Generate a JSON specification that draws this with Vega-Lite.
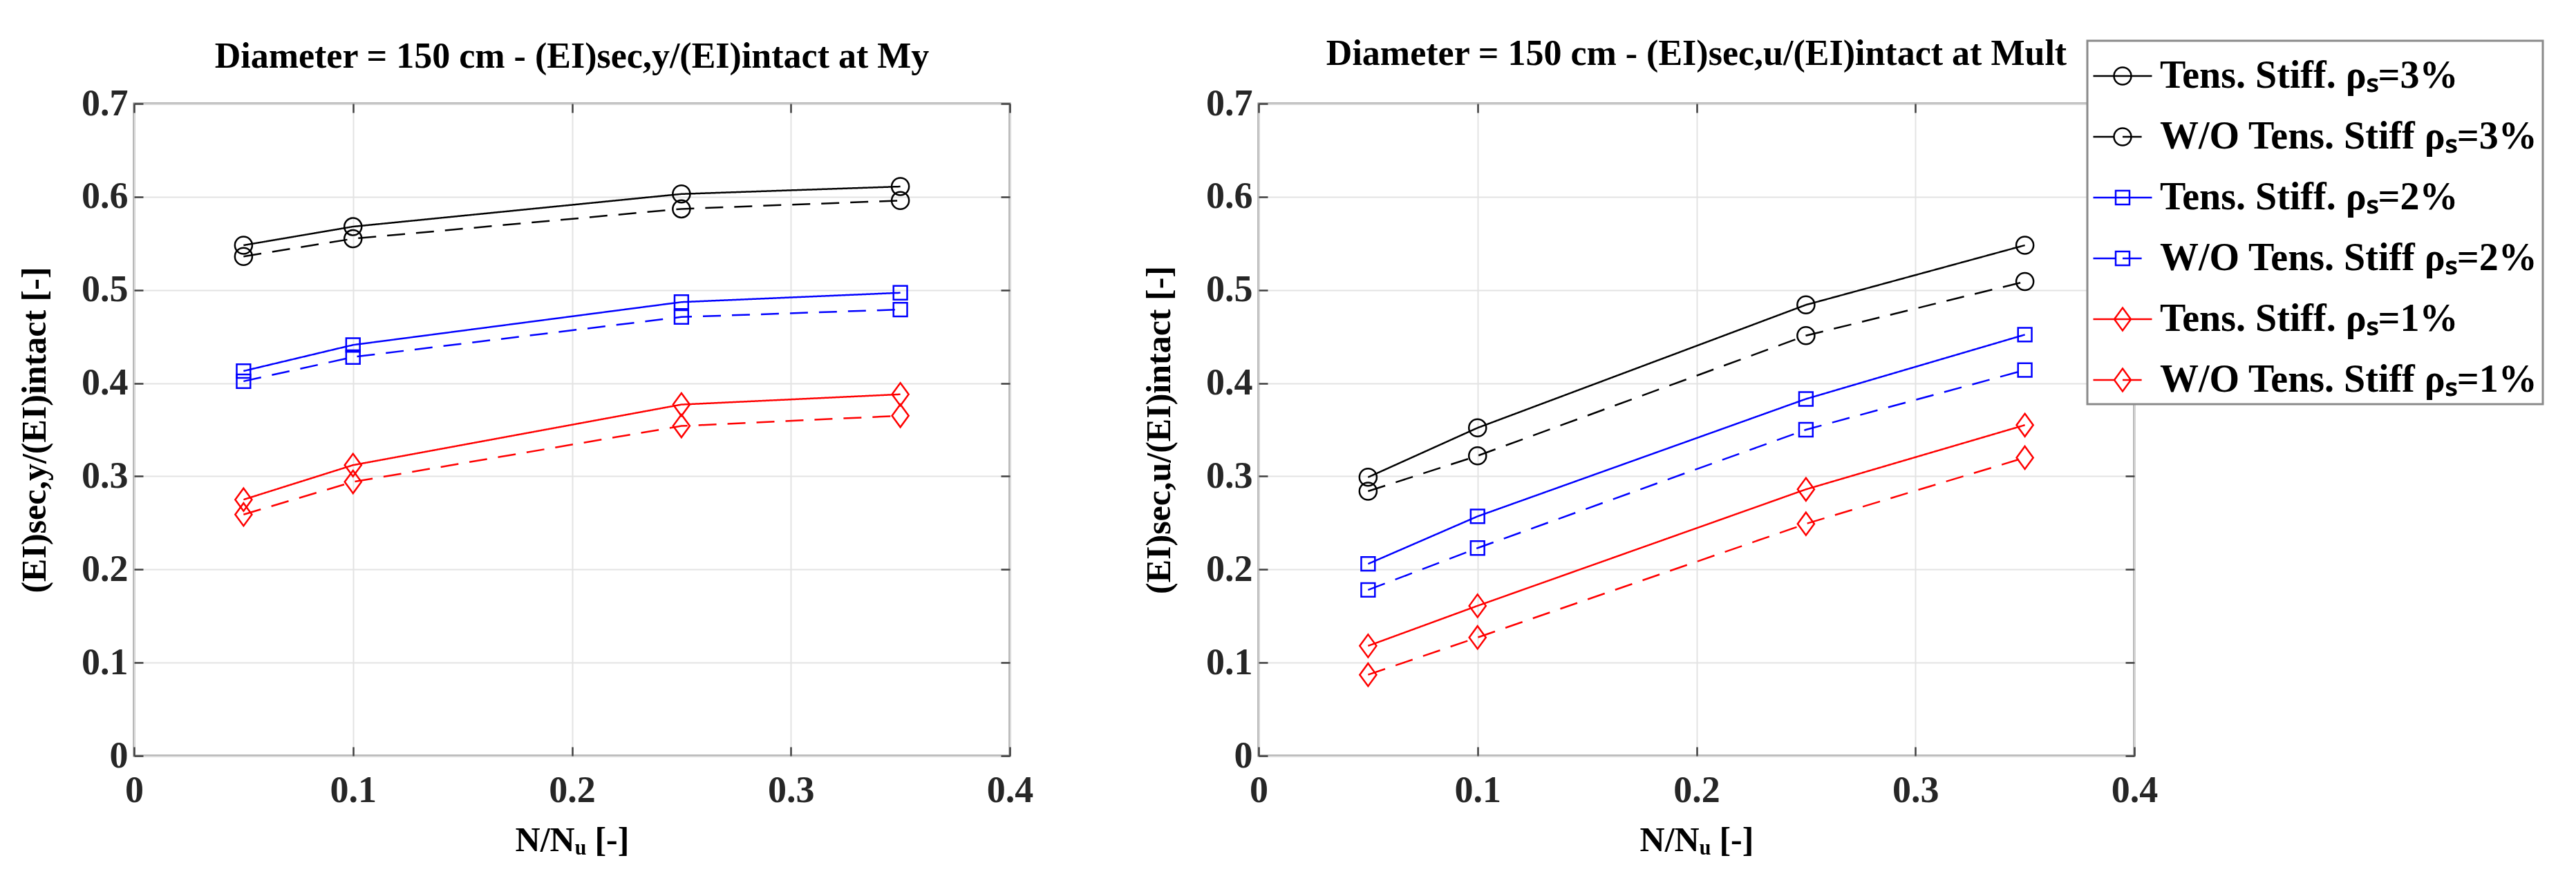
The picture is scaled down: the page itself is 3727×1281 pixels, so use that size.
{
  "$schema": "https://vega.github.io/schema/vega-lite/v6.json",
  "background": "white",
  "padding": {"left": 24, "top": 50, "right": 0, "bottom": 0},
  "config": {
    "font": "Liberation Serif",
    "view": {"stroke": "#7f7f7f", "strokeWidth": 3},
    "axis": {
      "labelFont": "Liberation Serif", "labelFontSize": 54, "labelFontWeight": "bold", "labelColor": "#262626",
      "titleFont": "Liberation Serif", "titleFontSize": 50, "titleFontWeight": "bold", "titleColor": "#000000",
      "gridColor": "#e3e3e3", "gridWidth": 2,
      "tickColor": "#404040", "tickWidth": 2.5, "tickSize": -13,
      "domain": false, "labelFlush": false
    },
    "title": {"font": "Liberation Serif", "fontSize": 52, "fontWeight": "bold", "color": "#000000", "baseline": "alphabetic", "offset": 14, "anchor": "middle", "frame": "group"}
  },
  "datasets": {
    "left": [
      {"x": 0.05, "y": 0.548, "s": "Tens. Stiff. ρₛ=3%"}, {"x": 0.1, "y": 0.568, "s": "Tens. Stiff. ρₛ=3%"}, {"x": 0.25, "y": 0.603, "s": "Tens. Stiff. ρₛ=3%"}, {"x": 0.35, "y": 0.611, "s": "Tens. Stiff. ρₛ=3%"},
      {"x": 0.05, "y": 0.536, "s": "W/O Tens. Stiff ρₛ=3%"}, {"x": 0.1, "y": 0.555, "s": "W/O Tens. Stiff ρₛ=3%"}, {"x": 0.25, "y": 0.587, "s": "W/O Tens. Stiff ρₛ=3%"}, {"x": 0.35, "y": 0.596, "s": "W/O Tens. Stiff ρₛ=3%"},
      {"x": 0.05, "y": 0.413, "s": "Tens. Stiff. ρₛ=2%"}, {"x": 0.1, "y": 0.441, "s": "Tens. Stiff. ρₛ=2%"}, {"x": 0.25, "y": 0.487, "s": "Tens. Stiff. ρₛ=2%"}, {"x": 0.35, "y": 0.497, "s": "Tens. Stiff. ρₛ=2%"},
      {"x": 0.05, "y": 0.402, "s": "W/O Tens. Stiff ρₛ=2%"}, {"x": 0.1, "y": 0.428, "s": "W/O Tens. Stiff ρₛ=2%"}, {"x": 0.25, "y": 0.471, "s": "W/O Tens. Stiff ρₛ=2%"}, {"x": 0.35, "y": 0.479, "s": "W/O Tens. Stiff ρₛ=2%"},
      {"x": 0.05, "y": 0.275, "s": "Tens. Stiff. ρₛ=1%"}, {"x": 0.1, "y": 0.312, "s": "Tens. Stiff. ρₛ=1%"}, {"x": 0.25, "y": 0.377, "s": "Tens. Stiff. ρₛ=1%"}, {"x": 0.35, "y": 0.388, "s": "Tens. Stiff. ρₛ=1%"},
      {"x": 0.05, "y": 0.259, "s": "W/O Tens. Stiff ρₛ=1%"}, {"x": 0.1, "y": 0.294, "s": "W/O Tens. Stiff ρₛ=1%"}, {"x": 0.25, "y": 0.354, "s": "W/O Tens. Stiff ρₛ=1%"}, {"x": 0.35, "y": 0.365, "s": "W/O Tens. Stiff ρₛ=1%"}
    ],
    "right": [
      {"x": 0.05, "y": 0.299, "s": "Tens. Stiff. ρₛ=3%"}, {"x": 0.1, "y": 0.352, "s": "Tens. Stiff. ρₛ=3%"}, {"x": 0.25, "y": 0.484, "s": "Tens. Stiff. ρₛ=3%"}, {"x": 0.35, "y": 0.548, "s": "Tens. Stiff. ρₛ=3%"},
      {"x": 0.05, "y": 0.284, "s": "W/O Tens. Stiff ρₛ=3%"}, {"x": 0.1, "y": 0.322, "s": "W/O Tens. Stiff ρₛ=3%"}, {"x": 0.25, "y": 0.451, "s": "W/O Tens. Stiff ρₛ=3%"}, {"x": 0.35, "y": 0.509, "s": "W/O Tens. Stiff ρₛ=3%"},
      {"x": 0.05, "y": 0.206, "s": "Tens. Stiff. ρₛ=2%"}, {"x": 0.1, "y": 0.257, "s": "Tens. Stiff. ρₛ=2%"}, {"x": 0.25, "y": 0.383, "s": "Tens. Stiff. ρₛ=2%"}, {"x": 0.35, "y": 0.452, "s": "Tens. Stiff. ρₛ=2%"},
      {"x": 0.05, "y": 0.178, "s": "W/O Tens. Stiff ρₛ=2%"}, {"x": 0.1, "y": 0.223, "s": "W/O Tens. Stiff ρₛ=2%"}, {"x": 0.25, "y": 0.350, "s": "W/O Tens. Stiff ρₛ=2%"}, {"x": 0.35, "y": 0.414, "s": "W/O Tens. Stiff ρₛ=2%"},
      {"x": 0.05, "y": 0.118, "s": "Tens. Stiff. ρₛ=1%"}, {"x": 0.1, "y": 0.161, "s": "Tens. Stiff. ρₛ=1%"}, {"x": 0.25, "y": 0.286, "s": "Tens. Stiff. ρₛ=1%"}, {"x": 0.35, "y": 0.355, "s": "Tens. Stiff. ρₛ=1%"},
      {"x": 0.05, "y": 0.087, "s": "W/O Tens. Stiff ρₛ=1%"}, {"x": 0.1, "y": 0.127, "s": "W/O Tens. Stiff ρₛ=1%"}, {"x": 0.25, "y": 0.249, "s": "W/O Tens. Stiff ρₛ=1%"}, {"x": 0.35, "y": 0.320, "s": "W/O Tens. Stiff ρₛ=1%"}
    ]
  },
  "spacing": 154,
  "resolve": {"legend": {"color": "independent"}, "scale": {"color": "independent"}},
  "hconcat": [
    {
      "title": "Diameter = 150 cm - (EI)sec,y/(EI)intact at My",
      "width": 1267,
      "height": 944,
      "data": {"name": "left"},
      "resolve": {"axis": {"x": "independent", "y": "independent"}},
      "layer": [
        {
          "mark": {"type": "line", "strokeWidth": 2.5},
          "encoding": {
            "x": {"field": "x", "type": "quantitative", "scale": {"domain": [0, 0.4]},
              "axis": {"values": [0, 0.1, 0.2, 0.3, 0.4], "format": ".1~f", "title": "N/Nᵤ [-]", "labelPadding": 36, "titlePadding": 20}},
            "y": {"field": "y", "type": "quantitative", "scale": {"domain": [0, 0.7]},
              "axis": {"values": [0, 0.1, 0.2, 0.3, 0.4, 0.5, 0.6, 0.7], "format": ".1~f", "title": "(EI)sec,y/(EI)intact [-]", "labelPadding": 22, "titlePadding": 42}},
            "color": {"field": "s", "type": "nominal", "legend": null,
              "scale": {"domain": ["Tens. Stiff. ρₛ=3%", "W/O Tens. Stiff ρₛ=3%", "Tens. Stiff. ρₛ=2%", "W/O Tens. Stiff ρₛ=2%", "Tens. Stiff. ρₛ=1%", "W/O Tens. Stiff ρₛ=1%"],
                "range": ["#000000", "#000000", "#0000ff", "#0000ff", "#ff0000", "#ff0000"]}},
            "strokeDash": {"field": "s", "type": "nominal", "legend": null,
              "scale": {"domain": ["Tens. Stiff. ρₛ=3%", "W/O Tens. Stiff ρₛ=3%", "Tens. Stiff. ρₛ=2%", "W/O Tens. Stiff ρₛ=2%", "Tens. Stiff. ρₛ=1%", "W/O Tens. Stiff ρₛ=1%"],
                "range": [[1, 0], [26, 16], [1, 0], [26, 16], [1, 0], [26, 16]]}}
          }
        },
        {
          "mark": {"type": "point", "filled": false, "strokeWidth": 2.5, "opacity": 1, "size": 1089},
          "encoding": {
            "x": {"field": "x", "type": "quantitative", "axis": {"orient": "top", "values": [0, 0.1, 0.2, 0.3, 0.4], "labels": false, "title": null, "grid": false}},
            "y": {"field": "y", "type": "quantitative", "axis": {"orient": "right", "values": [0, 0.1, 0.2, 0.3, 0.4, 0.5, 0.6, 0.7], "labels": false, "title": null, "grid": false}},
            "stroke": {"field": "s", "type": "nominal", "legend": null,
              "scale": {"domain": ["Tens. Stiff. ρₛ=3%", "W/O Tens. Stiff ρₛ=3%", "Tens. Stiff. ρₛ=2%", "W/O Tens. Stiff ρₛ=2%", "Tens. Stiff. ρₛ=1%", "W/O Tens. Stiff ρₛ=1%"],
                "range": ["#000000", "#000000", "#0000ff", "#0000ff", "#ff0000", "#ff0000"]}},
            "shape": {"field": "s", "type": "nominal", "legend": null,
              "scale": {"domain": ["Tens. Stiff. ρₛ=3%", "W/O Tens. Stiff ρₛ=3%", "Tens. Stiff. ρₛ=2%", "W/O Tens. Stiff ρₛ=2%", "Tens. Stiff. ρₛ=1%", "W/O Tens. Stiff ρₛ=1%"],
                "range": ["M-0.76,0A0.76,0.76 0 1,0 0.76,0A0.76,0.76 0 1,0 -0.76,0Z", "M-0.76,0A0.76,0.76 0 1,0 0.76,0A0.76,0.76 0 1,0 -0.76,0Z", "M-0.6,-0.6H0.6V0.6H-0.6Z", "M-0.6,-0.6H0.6V0.6H-0.6Z", "M0,-1L0.73,0L0,1L-0.73,0Z", "M0,-1L0.73,0L0,1L-0.73,0Z"]}}
          }
        }
      ]
    },
    {
      "title": {"text": "Diameter = 150 cm - (EI)sec,u/(EI)intact at Mult", "offset": -47},
      "width": 1267,
      "height": 944,
      "data": {"name": "right"},
      "resolve": {"axis": {"x": "independent", "y": "independent"}},
      "layer": [
        {
          "mark": {"type": "line", "strokeWidth": 2.5},
          "encoding": {
            "x": {"field": "x", "type": "quantitative", "scale": {"domain": [0, 0.4]},
              "axis": {"values": [0, 0.1, 0.2, 0.3, 0.4], "format": ".1~f", "title": "N/Nᵤ [-]", "labelPadding": 36, "titlePadding": 20}},
            "y": {"field": "y", "type": "quantitative", "scale": {"domain": [0, 0.7]},
              "axis": {"values": [0, 0.1, 0.2, 0.3, 0.4, 0.5, 0.6, 0.7], "format": ".1~f", "title": "(EI)sec,u/(EI)intact [-]", "labelPadding": 22, "titlePadding": 42}},
            "color": {"field": "s", "type": "nominal",
              "scale": {"domain": ["Tens. Stiff. ρₛ=3%", "W/O Tens. Stiff ρₛ=3%", "Tens. Stiff. ρₛ=2%", "W/O Tens. Stiff ρₛ=2%", "Tens. Stiff. ρₛ=1%", "W/O Tens. Stiff ρₛ=1%"],
                "range": ["#000000", "#000000", "#0000ff", "#0000ff", "#ff0000", "#ff0000"]},
              "legend": {
                "title": null, "orient": "none", "legendX": 1199, "legendY": -91,
                "padding": 7, "rowPadding": 16, "symbolSize": 7225, "symbolStrokeWidth": 2.5,
                "labelOffset": 10, "labelLimit": 1000, "labelFontSize": 56, "labelFont": "Liberation Serif",
                "labelFontWeight": "bold", "labelColor": "#000000", "strokeColor": "#8a8a8a", "fillColor": "#ffffff",
                "encode": {
                  "symbols": {"update": {
                    "shape": {"signal": "['M-1,0H1M-0.294,0A0.294,0.294 0 1,0 0.294,0A0.294,0.294 0 1,0 -0.294,0Z', 'M-1,0H-0.294M0,0H0.65M-0.294,0A0.294,0.294 0 1,0 0.294,0A0.294,0.294 0 1,0 -0.294,0Z', 'M-1,0H1M-0.235,-0.235H0.235V0.235H-0.235Z', 'M-1,0H-0.235M0,0H0.65M-0.235,-0.235H0.235V0.235H-0.235Z', 'M-1,0H1M0,-0.388L0.282,0L0,0.388L-0.282,0Z', 'M-1,0H-0.282M0,0H0.65M0,-0.388L0.282,0L0,0.388L-0.282,0Z'][datum.index]"},
                    "fill": {"value": "transparent"},
                    "strokeWidth": {"value": 2.5}
                  }},
                  "legend": {"update": {"strokeWidth": {"value": 3}}}
                }
              }},
            "strokeDash": {"field": "s", "type": "nominal", "legend": null,
              "scale": {"domain": ["Tens. Stiff. ρₛ=3%", "W/O Tens. Stiff ρₛ=3%", "Tens. Stiff. ρₛ=2%", "W/O Tens. Stiff ρₛ=2%", "Tens. Stiff. ρₛ=1%", "W/O Tens. Stiff ρₛ=1%"],
                "range": [[1, 0], [26, 16], [1, 0], [26, 16], [1, 0], [26, 16]]}}
          }
        },
        {
          "mark": {"type": "point", "filled": false, "strokeWidth": 2.5, "opacity": 1, "size": 1089},
          "encoding": {
            "x": {"field": "x", "type": "quantitative", "axis": {"orient": "top", "values": [0, 0.1, 0.2, 0.3, 0.4], "labels": false, "title": null, "grid": false}},
            "y": {"field": "y", "type": "quantitative", "axis": {"orient": "right", "values": [0, 0.1, 0.2, 0.3, 0.4, 0.5, 0.6, 0.7], "labels": false, "title": null, "grid": false}},
            "stroke": {"field": "s", "type": "nominal", "legend": null,
              "scale": {"domain": ["Tens. Stiff. ρₛ=3%", "W/O Tens. Stiff ρₛ=3%", "Tens. Stiff. ρₛ=2%", "W/O Tens. Stiff ρₛ=2%", "Tens. Stiff. ρₛ=1%", "W/O Tens. Stiff ρₛ=1%"],
                "range": ["#000000", "#000000", "#0000ff", "#0000ff", "#ff0000", "#ff0000"]}},
            "shape": {"field": "s", "type": "nominal", "legend": null,
              "scale": {"domain": ["Tens. Stiff. ρₛ=3%", "W/O Tens. Stiff ρₛ=3%", "Tens. Stiff. ρₛ=2%", "W/O Tens. Stiff ρₛ=2%", "Tens. Stiff. ρₛ=1%", "W/O Tens. Stiff ρₛ=1%"],
                "range": ["M-0.76,0A0.76,0.76 0 1,0 0.76,0A0.76,0.76 0 1,0 -0.76,0Z", "M-0.76,0A0.76,0.76 0 1,0 0.76,0A0.76,0.76 0 1,0 -0.76,0Z", "M-0.6,-0.6H0.6V0.6H-0.6Z", "M-0.6,-0.6H0.6V0.6H-0.6Z", "M0,-1L0.73,0L0,1L-0.73,0Z", "M0,-1L0.73,0L0,1L-0.73,0Z"]}}
          }
        }
      ]
    }
  ]
}
